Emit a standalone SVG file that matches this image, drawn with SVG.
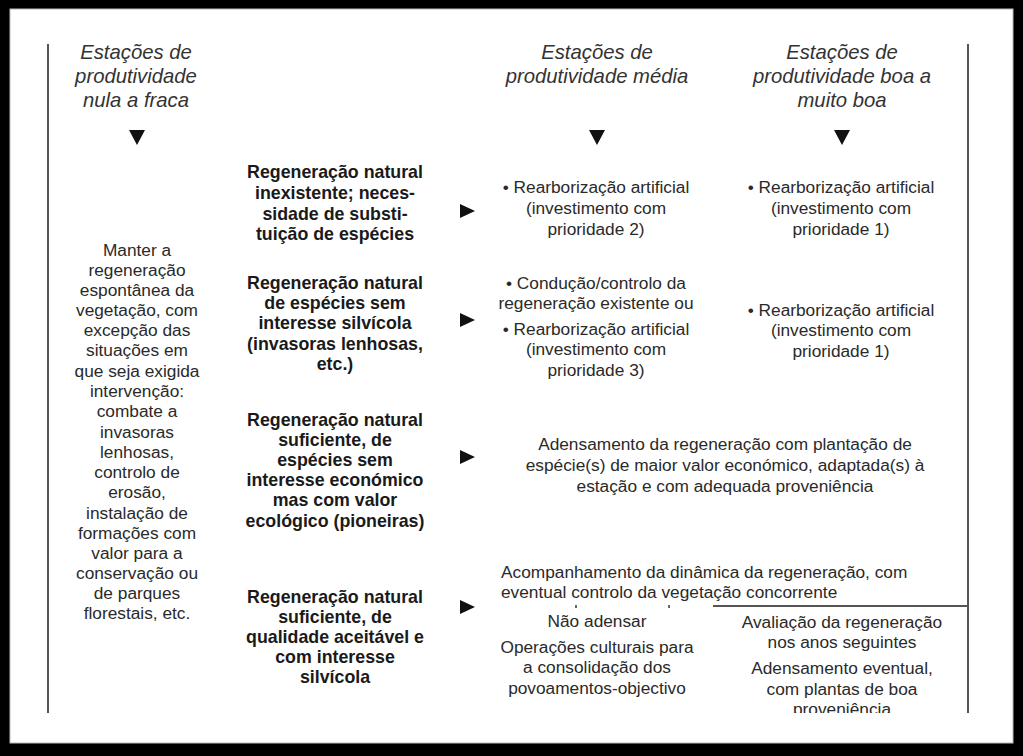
<svg xmlns="http://www.w3.org/2000/svg" width="1023" height="756" viewBox="0 0 1023 756">
<defs>
<style>
.h{font-family:"Liberation Sans",Arial,sans-serif;font-size:20.3px;font-style:italic;fill:#333;text-anchor:middle}
.t{font-family:"Liberation Sans",Arial,sans-serif;font-size:17.3px;fill:#2a2a2a;text-anchor:middle}
.b{font-family:"Liberation Sans",Arial,sans-serif;font-size:17.8px;font-weight:bold;fill:#1a1a1a;text-anchor:middle}
.l{font-family:"Liberation Sans",Arial,sans-serif;font-size:17.3px;fill:#2a2a2a}
.ln{stroke:#555;stroke-width:2;fill:none}
.tri{fill:#111}
</style>
<clipPath id="clip"><rect x="0" y="0" width="1023" height="713"/></clipPath>
</defs>
<rect x="0" y="0" width="1023" height="756" fill="#000"/>
<rect x="10" y="9" width="1003" height="734" fill="#fff" stroke="#bbb" stroke-width="1"/>

<g id="connectors">
<line class="ln" x1="48" y1="44" x2="48" y2="713"/>
<line class="ln" x1="968" y1="44" x2="968" y2="713"/>
<line class="ln" x1="713" y1="606" x2="968" y2="606"/>
<polygon class="tri" points="129,130 145,130 137,145"/>
<polygon class="tri" points="589,130 605,130 597,145"/>
<polygon class="tri" points="834,130 850,130 842,145"/>
<polygon class="tri" points="460,204 475,211 460,218"/>
<polygon class="tri" points="460,313 475,320 460,327"/>
<polygon class="tri" points="460,450 475,457 460,464"/>
<polygon class="tri" points="460,600 475,607 460,614"/>
<rect x="575" y="605" width="2" height="3" fill="#666"/>
<rect x="668" y="605" width="2" height="3" fill="#666"/>
</g>

<g id="hdr1">
<text class="h" x="136" y="59">Estações de</text>
<text class="h" x="136" y="83">produtividade</text>
<text class="h" x="136" y="107">nula a fraca</text>
</g>
<g id="hdr2">
<text class="h" x="597" y="59">Estações de</text>
<text class="h" x="597" y="83">produtividade média</text>
</g>
<g id="hdr3">
<text class="h" x="842" y="59">Estações de</text>
<text class="h" x="842" y="83">produtividade boa a</text>
<text class="h" x="842" y="107">muito boa</text>
</g>

<g id="left">
<text class="t" x="137" y="256">Manter a</text>
<text class="t" x="137" y="276">regeneração</text>
<text class="t" x="137" y="296">espontânea da</text>
<text class="t" x="137" y="316">vegetação, com</text>
<text class="t" x="137" y="336">excepção das</text>
<text class="t" x="137" y="356">situações em</text>
<text class="t" x="137" y="377">que seja exigida</text>
<text class="t" x="137" y="397">intervenção:</text>
<text class="t" x="137" y="417">combate a</text>
<text class="t" x="137" y="438">invasoras</text>
<text class="t" x="137" y="458">lenhosas,</text>
<text class="t" x="137" y="478">controlo de</text>
<text class="t" x="137" y="498">erosão,</text>
<text class="t" x="137" y="519">instalação de</text>
<text class="t" x="137" y="539">formações com</text>
<text class="t" x="137" y="559">valor para a</text>
<text class="t" x="137" y="579">conservação ou</text>
<text class="t" x="137" y="599">de parques</text>
<text class="t" x="137" y="619">florestais, etc.</text>
</g>

<g id="cond1">
<text class="b" x="335" y="178">Regeneração natural</text>
<text class="b" x="335" y="199">inexistente; neces-</text>
<text class="b" x="335" y="220">sidade de substi-</text>
<text class="b" x="335" y="240">tuição de espécies</text>
</g>
<g id="cond2">
<text class="b" x="335" y="289">Regeneração natural</text>
<text class="b" x="335" y="309">de espécies sem</text>
<text class="b" x="335" y="329">interesse silvícola</text>
<text class="b" x="335" y="350">(invasoras lenhosas,</text>
<text class="b" x="335" y="370">etc.)</text>
</g>
<g id="cond3">
<text class="b" x="335" y="426">Regeneração natural</text>
<text class="b" x="335" y="446">suficiente, de</text>
<text class="b" x="335" y="466">espécies sem</text>
<text class="b" x="335" y="486">interesse económico</text>
<text class="b" x="335" y="506">mas com valor</text>
<text class="b" x="335" y="527">ecológico (pioneiras)</text>
</g>
<g id="cond4">
<text class="b" x="335" y="603">Regeneração natural</text>
<text class="b" x="335" y="623">suficiente, de</text>
<text class="b" x="335" y="643">qualidade aceitável e</text>
<text class="b" x="335" y="663">com interesse</text>
<text class="b" x="335" y="683">silvícola</text>
</g>

<g id="r1m">
<text class="t" x="596" y="193">• Rearborização artificial</text>
<text class="t" x="596" y="214">(investimento com</text>
<text class="t" x="596" y="235">prioridade 2)</text>
</g>
<g id="r1b">
<text class="t" x="841" y="193">• Rearborização artificial</text>
<text class="t" x="841" y="214">(investimento com</text>
<text class="t" x="841" y="235">prioridade 1)</text>
</g>
<g id="r2m">
<text class="t" x="596" y="289">• Condução/controlo da</text>
<text class="t" x="596" y="309">regeneração existente ou</text>
<text class="t" x="596" y="335">• Rearborização artificial</text>
<text class="t" x="596" y="355">(investimento com</text>
<text class="t" x="596" y="376">prioridade 3)</text>
</g>
<g id="r2b">
<text class="t" x="841" y="316">• Rearborização artificial</text>
<text class="t" x="841" y="336">(investimento com</text>
<text class="t" x="841" y="357">prioridade 1)</text>
</g>
<g id="r3">
<text class="t" x="725" y="450">Adensamento da regeneração com plantação de</text>
<text class="t" x="725" y="471">espécie(s) de maior valor económico, adaptada(s) à</text>
<text class="t" x="725" y="492">estação e com adequada proveniência</text>
</g>
<g id="r4">
<text class="l" x="501" y="578">Acompanhamento da dinâmica da regeneração, com</text>
<text class="l" x="501" y="598">eventual controlo da vegetação concorrente</text>
</g>
<g id="r4m">
<text class="t" x="597" y="627">Não adensar</text>
<text class="t" x="597" y="653">Operações culturais para</text>
<text class="t" x="597" y="673">a consolidação dos</text>
<text class="t" x="597" y="694">povoamentos-objectivo</text>
</g>
<g id="r4b" clip-path="url(#clip)">
<text class="t" x="842" y="628">Avaliação da regeneração</text>
<text class="t" x="842" y="648">nos anos seguintes</text>
<text class="t" x="842" y="674">Adensamento eventual,</text>
<text class="t" x="842" y="695">com plantas de boa</text>
<text class="t" x="842" y="715">proveniência</text>
</g>
</svg>
